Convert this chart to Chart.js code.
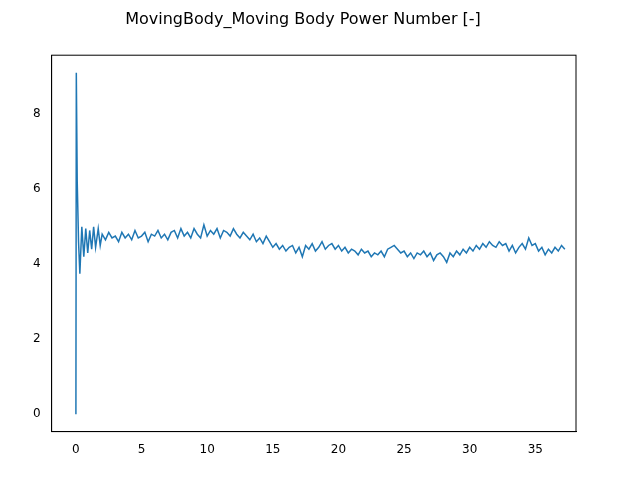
<!DOCTYPE html>
<html><head><meta charset="utf-8">
<script src="https://cdn.jsdelivr.net/npm/chart.js@4"></script>
<style>body{margin:0;background:#fff}</style>
</head><body><canvas id="c" width="640" height="480"></canvas>
<script>
const title = "MovingBody_Moving Body Power Number [-]";
// start-up transient
const startX = [0, 0.03, 0.1, 0.2, 0.3, 0.45, 0.6, 0.75, 0.9, 1.05, 1.2, 1.35, 1.5, 1.7, 1.85];
const startY = [0, 9.1, 6.2, 4.6, 3.75, 5.0, 4.2, 4.95, 4.3, 4.9, 4.4, 5.0, 4.45, 4.95, 4.5];
// steady part, every 0.25 from 2.0
const steadyY = [
  4.8, 4.65, 4.85, 4.7, 4.75, 4.6, 4.85, 4.7, 4.8, 4.65,
  4.9, 4.7, 4.75, 4.85, 4.6, 4.8, 4.75, 4.9, 4.7, 4.8,
  4.65, 4.85, 4.9, 4.7, 4.95, 4.75, 4.85, 4.7, 4.95, 4.8,
  4.7, 5.05, 4.75, 4.9, 4.8, 4.95, 4.7, 4.9, 4.85, 4.75,
  4.95, 4.8, 4.7, 4.85, 4.75, 4.65, 4.8, 4.6, 4.7, 4.55,
  4.75, 4.6, 4.45, 4.55, 4.4, 4.5, 4.35, 4.45, 4.5, 4.3,
  4.45, 4.2, 4.5, 4.4, 4.55, 4.35, 4.45, 4.6, 4.4, 4.5,
  4.55, 4.4, 4.5, 4.35, 4.45, 4.3, 4.4, 4.35, 4.25, 4.4,
  4.3, 4.35, 4.2, 4.3, 4.25, 4.35, 4.2, 4.4, 4.45, 4.5,
  4.4, 4.3, 4.35, 4.2, 4.3, 4.15, 4.3, 4.25, 4.35, 4.2,
  4.3, 4.1, 4.25, 4.3, 4.2, 4.05, 4.3, 4.2, 4.35, 4.25,
  4.4, 4.3, 4.45, 4.35, 4.5, 4.4, 4.55, 4.45, 4.6, 4.5,
  4.45, 4.6, 4.5, 4.55, 4.35, 4.5, 4.3, 4.45, 4.55, 4.4,
  4.7, 4.5, 4.55, 4.35, 4.45, 4.25, 4.4, 4.3, 4.45, 4.35,
  4.5, 4.4
];
const xTicks = [0, 5, 10, 15, 20, 25, 30, 35];
const yTicks = [0, 2, 4, 6, 8];
const xs = startX.slice(), ys = startY.slice();
steadyY.forEach((v, i) => { xs.push(+(2 + i * 0.25).toFixed(2)); ys.push(v); });
const pts = xs.map((x, i) => ({x: x, y: ys[i]}));

new Chart(document.getElementById("c"), {
  type: "scatter",
  data: { datasets: [{ data: pts, showLine: true, borderColor: "#1f77b4", borderWidth: 1.5, pointRadius: 0, tension: 0 }] },
  options: {
    responsive: false, animation: false, devicePixelRatio: 1,
    layout: { padding: { left: 30, right: 64, top: 0, bottom: 20 } },
    plugins: {
      legend: { display: false }, tooltip: { enabled: false },
      title: { display: true, text: title, color: "#000", font: { family: "DejaVu Sans", size: 16, weight: "normal" }, padding: { top: 10, bottom: 26 } }
    },
    scales: {
      x: { type: "linear", min: -1.85, max: 38.1, grid: { display: false }, border: { color: "#000" },
           ticks: { color: "#000", font: { family: "DejaVu Sans", size: 12 } },
           afterBuildTicks: a => { a.ticks = xTicks.map(v => ({value: v})); } },
      y: { min: -0.46, max: 9.57, grid: { display: false }, border: { color: "#000" },
           ticks: { color: "#000", font: { family: "DejaVu Sans", size: 12 } },
           afterBuildTicks: a => { a.ticks = yTicks.map(v => ({value: v})); } }
    }
  },
  plugins: [{ id: "frame", afterDraw(c) { const a = c.chartArea, g = c.ctx; g.save(); g.strokeStyle = "#000"; g.lineWidth = 1; g.strokeRect(a.left, a.top, a.right - a.left, a.bottom - a.top); g.restore(); } }]
});
</script>
</body></html>
